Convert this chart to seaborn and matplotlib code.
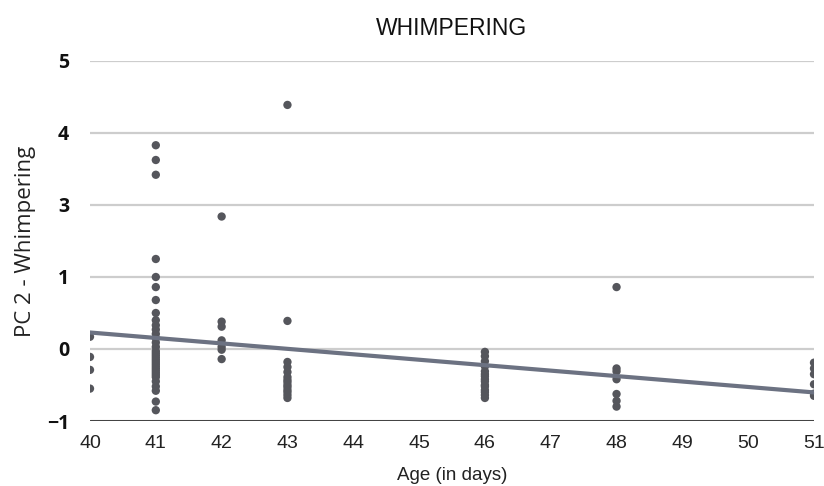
import matplotlib
matplotlib.use("Agg")
import matplotlib.pyplot as plt
import seaborn as sns
import pandas as pd
import numpy as np

# Data (values on the chart's visual scale; gridlines equally spaced)
age_40 = [0.17, -0.11, -0.29, -0.55]
age_41 = [2.83, 2.625, 2.42, 1.25, 1.0, 0.86, 0.68, 0.50, 0.40, 0.33, 0.27, 0.21,
          0.15, 0.09, 0.03, -0.03, -0.09, -0.15, -0.21, -0.27, -0.33, -0.39,
          -0.45, -0.52, -0.58, -0.73, -0.85,
          -0.06, -0.12, -0.18, -0.24, -0.30, -0.36]
age_42 = [1.84, 0.38, 0.31, 0.12, 0.03, -0.01, -0.14]
age_43 = [3.39, 0.39, -0.18, -0.25, -0.32, -0.39, -0.46, -0.53, -0.60, -0.68,
          -0.43, -0.50, -0.57, -0.64]
age_46 = [-0.04, -0.10, -0.17, -0.24, -0.31, -0.38, -0.45, -0.52, -0.60, -0.68,
          -0.35, -0.42, -0.50, -0.57, -0.64]
age_48 = [0.86, -0.27, -0.31, -0.42, -0.625, -0.72, -0.80]
age_51 = [-0.19, -0.27, -0.35, -0.49, -0.65, -0.62]

groups = {40: age_40, 41: age_41, 42: age_42, 43: age_43, 46: age_46, 48: age_48, 51: age_51}
ages, vals = [], []
for a, v in groups.items():
    ages += [a] * len(v)
    vals += v
df = pd.DataFrame({"Age (in days)": ages, "PC 2 - Whimpering": vals})

x_ticks = list(range(40, 52))
y_tick_pos = [-1, 0, 1, 2, 3, 4]
y_tick_labels = ["\u22121", "0", "1", "3", "4", "5"]

sns.set_theme(style="white")
plt.rcParams["font.family"] = ["Liberation Sans", "DejaVu Sans"]

fig = plt.figure(figsize=(8.24, 4.86), dpi=100)
ax = fig.add_axes([90 / 824, (486 - 421) / 486, (814 - 90) / 824, (421 - 61) / 486])

for yv in y_tick_pos[1:]:
    ax.axhline(yv, color="#cdcdcd", lw=1.6, zorder=0)
ax.axhline(-1, color="#444444", lw=2.2, zorder=0)

sns.regplot(data=df, x="Age (in days)", y="PC 2 - Whimpering", ax=ax, ci=12, seed=1,
            scatter_kws=dict(s=36, color="#55565c", edgecolors="none", alpha=1, zorder=3),
            line_kws=dict(color="#6c7282", lw=3, zorder=4), truncate=True)

ax.set_xlim(40, 51)
ax.set_ylim(-1, 4)
ax.set_xticks(x_ticks)
ax.set_xticklabels([str(t) for t in x_ticks], fontsize=14, color="#222222")
ax.set_yticks(y_tick_pos)
ax.set_yticklabels(y_tick_labels, fontsize=14, fontweight="bold", color="#111111",
                   family=["Open Sans", "DejaVu Sans"])
ax.tick_params(axis="both", length=0)
ax.tick_params(axis="y", pad=15)
ax.tick_params(axis="x", pad=10)
for s in ax.spines.values():
    s.set_visible(False)
ax.set_xlabel("Age (in days)", fontsize=13.5, color="#222222", labelpad=11)
ax.set_ylabel("PC 2 - Whimpering", fontsize=16, color="#222222", labelpad=8,
              family=["Open Sans", "DejaVu Sans"])
ax.set_title("WHIMPERING", fontsize=16.5, color="#111111", pad=19)

fig.savefig("out.png", dpi=100)
